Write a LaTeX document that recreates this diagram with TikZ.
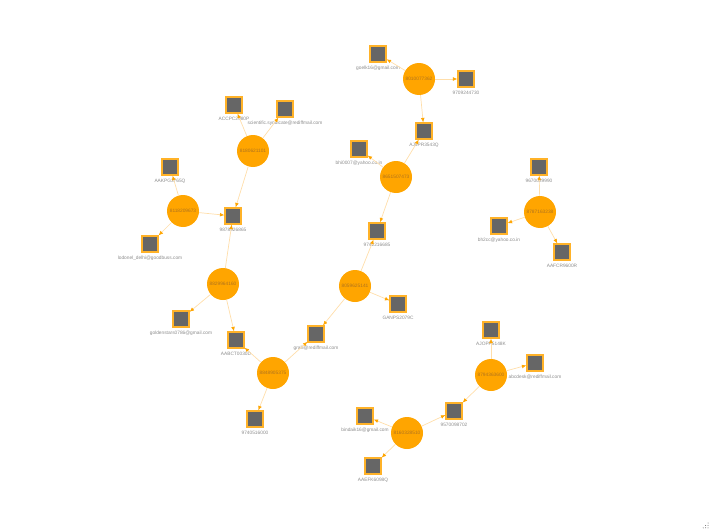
\documentclass[tikz,border=0pt]{standalone}
\usepackage{fontspec}
\setmainfont{Liberation Sans}
\usetikzlibrary{arrows.meta}
\definecolor{OR}{RGB}{255,165,0}
\definecolor{BO}{RGB}{255,178,40}
\definecolor{LO}{RGB}{255,222,170}
\definecolor{DG}{RGB}{102,102,102}
\definecolor{TG}{RGB}{140,140,140}
\definecolor{PT}{RGB}{175,115,30}

\begin{document}
\begin{tikzpicture}[x=1pt, y=-1pt,
  ph/.style={circle, fill=OR, minimum size=32pt, inner sep=0pt,
             font=\fontsize{4.8}{5}\selectfont, text=PT},
  ent/.style={draw=BO, line width=1.2pt, fill=DG, minimum size=16pt, inner sep=0pt},
  lbl/.style={font=\fontsize{4.8}{5}\selectfont, text=TG, inner sep=0pt, label distance=3pt},
  lnk/.style={draw=LO, line width=0.7pt, -{Latex[length=4.5pt, width=3.8pt, color=OR]}}
]
\useasboundingbox (0,0) rectangle (710,530);

% Phone numbers
\node[ph] (p1)  at (419,79)  {8010077362};
\node[ph] (p2)  at (396,177) {8651507473};
\node[ph] (p3)  at (253,151) {8180621101};
\node[ph] (p4)  at (183,211) {8118209673};
\node[ph] (p5)  at (223,284) {8829964160};
\node[ph] (p6)  at (273,373) {8848905375};
\node[ph] (p7)  at (355,286) {8059625141};
\node[ph] (p8)  at (540,212) {8787163238};
\node[ph] (p9)  at (491,375) {8794363600};
\node[ph] (p10) at (407,433) {8160328510};

% Linked records
\node[ent, label={[lbl]below:goelk16@gmail.com}]                  (s1)  at (378,54)  {};
\node[ent, label={[lbl]below:9709244730}]                         (s2)  at (466,79)  {};
\node[ent, label={[lbl]below:AJ6PR3543Q}]                         (s3)  at (424,131) {};
\node[ent, label={[lbl]below:bhi0007@yahoo.co.in}]                (s4)  at (359,149) {};
\node[ent, label={[lbl]below:ACCPC2980P}]                         (s5)  at (234,105) {};
\node[ent, label={[lbl]below:scientific.syndicate@rediffmail.com}] (s6)  at (285,109) {};
\node[ent, label={[lbl]below:AAKPG3765Q}]                         (s7)  at (170,167) {};
\node[ent, label={[lbl]below:9878926865}]                         (s8)  at (233,216) {};
\node[ent, label={[lbl]below:lodonel\_delhi@goodbuss.com}]        (s9)  at (150,244) {};
\node[ent, label={[lbl]below:9742216685}]                         (s10) at (377,231) {};
\node[ent, label={[lbl]below:GANPS2079C}]                         (s11) at (398,304) {};
\node[ent, label={[lbl]below:gralli@rediffmail.com}]              (s12) at (316,334) {};
\node[ent, label={[lbl]below:goldenstars0786@gmail.com}]          (s13) at (181,319) {};
\node[ent, label={[lbl]below:AABCT0030D}]                         (s14) at (236,340) {};
\node[ent, label={[lbl]below:9740516000}]                         (s15) at (255,419) {};
\node[ent, label={[lbl]below:9670029990}]                         (s16) at (539,167) {};
\node[ent, label={[lbl]below:bh2cc@yahoo.co.in}]                  (s17) at (499,226) {};
\node[ent, label={[lbl]below:AAFCR9600R}]                         (s18) at (562,252) {};
\node[ent, label={[lbl]below:AJOPP5148K}]                         (s19) at (491,330) {};
\node[ent, label={[lbl]below:abcdesk@rediffmail.com}]             (s20) at (535,363) {};
\node[ent, label={[lbl]below:9570098702}]                         (s21) at (454,411) {};
\node[ent, label={[lbl]below:bindaik16@gmail.com}]                (s22) at (365,416) {};
\node[ent, label={[lbl]below:AAEFK6098Q}]                         (s23) at (373,466) {};

% Links
\foreach \a/\b in {p1/s1, p1/s2, p1/s3, p2/s3, p2/s4, p2/s10,
                   p3/s5, p3/s6, p3/s8, p4/s7, p4/s8, p4/s9,
                   p5/s8, p5/s13, p5/s14, p6/s14, p6/s12, p6/s15,
                   p7/s10, p7/s11, p7/s12, p8/s16, p8/s17, p8/s18,
                   p9/s19, p9/s20, p9/s21, p10/s21, p10/s22, p10/s23} {
  \draw[lnk] (\a) -- (\b);
}

% Resize grip
\foreach \r in {0,1,2} {
  \foreach \c in {0,...,\r} {
    \fill[DG] ({708-2.4*\c},{523+2.4*\r}) circle (0.5);
  }
}
\end{tikzpicture}
\end{document}
